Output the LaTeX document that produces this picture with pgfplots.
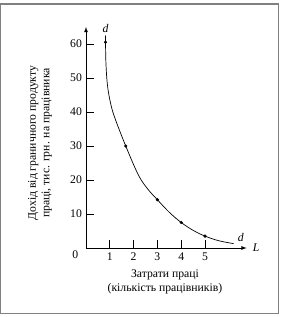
\documentclass[border=0pt]{standalone}
\usepackage{fontspec}
\setmainfont{Liberation Serif}
\usepackage{pgfplots}
\pgfplotsset{compat=1.18}
\begin{document}
\fontsize{11.7}{13.5}\selectfont
\begin{tikzpicture}
\useasboundingbox (-86pt,-69pt) rectangle (195pt,248pt);
\draw[gray, line width=1.5pt] (-85.3pt,-65.5pt) rectangle (192.5pt,244pt);
\begin{axis}[
  at={(0,0)}, anchor=origin,
  x=23.8pt, y=3.4pt,
  xmin=0, xmax=6.75, ymin=0, ymax=65,
  axis lines=left,
  axis line style={line width=0.8pt, -latex},
  clip=false,
  xtick={1,2,3,4,5}, ytick={10,20,30,40,50,60},
  tick align=inside,
  major tick length=8pt,
  tick style={line width=0.8pt, black},
  /pgf/number format/assume math mode=true,
  ticklabel style={font=\fontsize{11.7}{13.5}\selectfont},
  xticklabel style={yshift=-1pt},
]
\addplot[black, line width=0.7pt, smooth, tension=0.6] coordinates {
  (0.82,62.5) (0.82,60.5) (0.84,54) (0.9,48) (1.02,43) (1.2,38.5) (1.67,30) (2.2,21.5) (2.6,17.3) (3,14.2) (3.5,10.5) (4,7.5) (4.5,5.2) (5,3.5) (5.6,2.1) (6.2,1.3)
};
\addplot[only marks, mark=*, mark size=1.4pt, black] coordinates {
  (0.82,60.5) (1.67,30) (3,14.2) (4,7.5) (5,3.5)
};
\node[font=\itshape] at (axis cs:0.82,64.7) {d};
\node[font=\itshape] at (axis cs:6.5,3.0) {d};
\node[font=\itshape] at (axis cs:7.15,0) {L};
\node at (axis cs:-0.45,-2.1) {0};
\end{axis}
\node[align=center, rotate=90] at (-46pt,105pt) {Дохід від граничного продукту\\праці, тис. грн. на працівника};
\node[align=center] at (79pt,-34pt) {Затрати праці\\(кількість працівників)};
\end{tikzpicture}
\end{document}
